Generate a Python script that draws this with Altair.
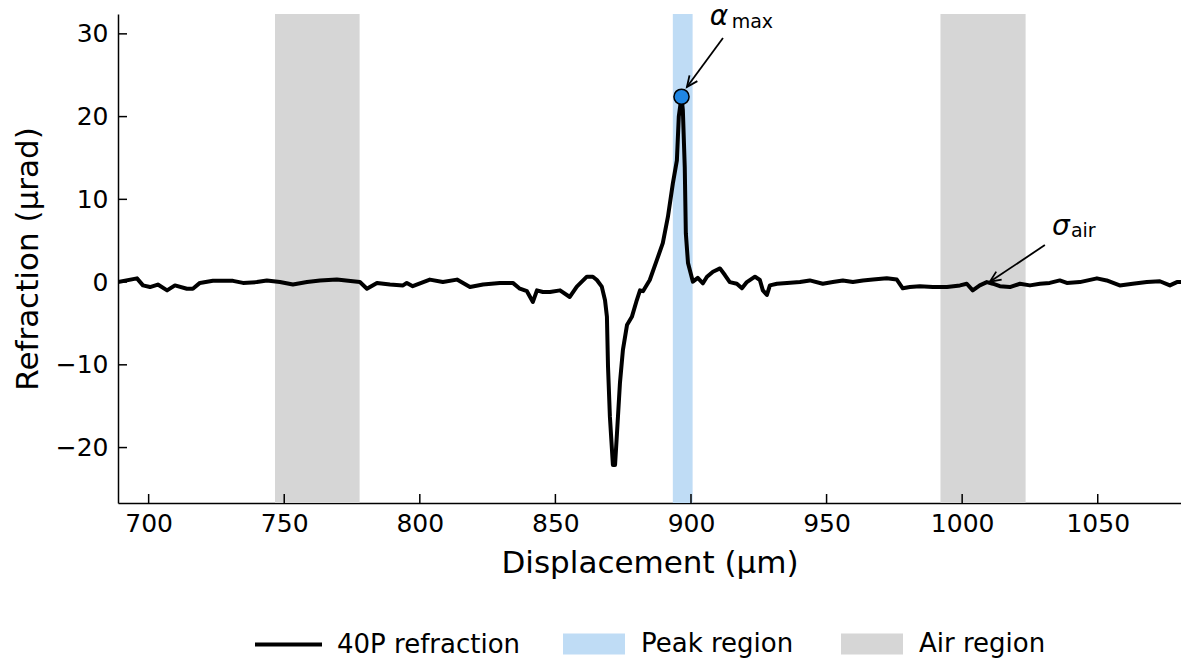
import math
import altair as alt
import pandas as pd

# ---- data -------------------------------------------------------------
displacement = [
    688.7, 695.7, 697.9, 700.5, 703.4, 706.8, 709.7, 714.1, 716.3, 718.9,
    723.7, 731.1, 734.8, 739.9, 743.6, 748.4, 753.2, 758.4, 763.2, 769.4,
    775.3, 777.9, 780.5, 784.2, 789.0, 793.8, 795.2, 797.4, 803.7, 808.5,
    813.7, 818.5, 823.3, 829.5, 834.3, 836.9, 839.5, 841.7, 843.2, 845.4,
    848.0, 851.7, 855.3, 857.9, 861.6, 863.8, 865.3, 867.1, 868.3, 869.0,
    869.4, 870.1, 871.2, 872.0, 872.7, 873.8, 874.9, 876.4, 878.2, 880.0,
    881.2, 882.3, 884.8, 887.4, 889.6, 891.5, 893.3, 894.8, 895.5, 896.5,
    897.0, 897.7, 898.1, 898.9, 900.7, 902.5, 904.4, 905.9, 908.1, 910.7,
    912.5, 914.3, 916.9, 918.8, 920.6, 923.6, 925.4, 926.5, 928.0, 929.1,
    931.7, 935.4, 940.2, 943.8, 948.6, 952.3, 956.0, 959.7, 963.4, 967.1,
    972.2, 975.9, 978.1, 980.7, 984.4, 989.2, 994.4, 999.2, 1001.7, 1003.9,
    1006.5, 1009.1, 1011.3, 1013.9, 1017.6, 1021.3, 1025.0, 1028.7, 1032.3, 1036.0,
    1038.6, 1043.4, 1049.7, 1053.3, 1058.1, 1062.9, 1068.1, 1072.9, 1076.6, 1079.2,
    1080.7,
]
refraction = [
    0.0, 0.45, -0.4, -0.6, -0.3, -1.0, -0.4, -0.8, -0.8, -0.1,
    0.15, 0.15, -0.1, 0.0, 0.2, 0.0, -0.3, 0.0, 0.2, 0.3,
    0.1, 0.0, -0.8, -0.1, -0.3, -0.4, -0.1, -0.5, 0.3, 0.0,
    0.3, -0.6, -0.3, -0.1, -0.1, -0.8, -1.1, -2.4, -1.0, -1.2,
    -1.2, -1.0, -1.8, -0.55, 0.65, 0.65, 0.25, -0.55, -2.2, -4.2,
    -10.2, -16.3, -22.1, -22.1, -18.3, -12.2, -8.2, -5.2, -4.2, -2.2,
    -1.0, -1.1, 0.25, 2.65, 4.7, 7.9, 11.9, 14.7, 20.0, 22.4,
    20.8, 13.9, 5.9, 2.3, 0.05, 0.5, -0.15, 0.65, 1.25, 1.65,
    0.85, 0.0, -0.2, -0.75, 0.0, 0.65, 0.25, -1.0, -1.55, -0.4,
    -0.2, -0.1, 0.0, 0.2, -0.2, 0.0, 0.2, 0.0, 0.2, 0.3,
    0.45, 0.3, -0.75, -0.6, -0.5, -0.6, -0.6, -0.4, -0.2, -1.0,
    -0.4, 0.0, -0.2, -0.5, -0.6, -0.2, -0.4, -0.2, -0.1, 0.2,
    -0.1, 0.0, 0.45, 0.2, -0.4, -0.2, 0.0, 0.1, -0.4, 0.0,
    0.0,
]

region_names = ["Air region", "Peak region", "Air region"]
region_start = [746.6, 893.3, 992.0]
region_end = [777.8, 900.6, 1023.4]

peak_x = [896.5]
peak_y = [22.4]

x_ticks = [700, 750, 800, 850, 900, 950, 1000, 1050]
y_ticks = [-20, -10, 0, 10, 20, 30]

# annotations (data coordinates)
ann_main = ["α", "σ"]
ann_main_x = [910.3, 1036.4]
ann_main_y = [32.0, 6.65]
ann_sub = ["max", "air"]
ann_sub_x = [915.0, 1040.1]
ann_sub_y = [31.4, 6.16]
arrow_start_x = [911.8, 1030.5]
arrow_start_y = [29.49, 4.47]
arrow_tip_x = [898.5, 1010.2]
arrow_tip_y = [23.57, 0.04]

X_DOMAIN = [688.7, 1080.7]
Y_DOMAIN = [-26.7, 32.4]
W, H = 1063, 489
FONT = "DejaVu Sans"

# ---- frames ------------------------------------------------------------
line_df = pd.DataFrame({"x": displacement, "y": refraction,
                        "series": "40P refraction"})
region_df = pd.DataFrame({"x": region_start, "x2": region_end,
                          "region": region_names})
peak_df = pd.DataFrame({"x": peak_x, "y": peak_y})
xt_df = pd.DataFrame({"x": x_ticks})
yt_df = pd.DataFrame({"y": y_ticks})
main_df = pd.DataFrame({"x": ann_main_x, "y": ann_main_y, "t": ann_main})
sub_df = pd.DataFrame({"x": ann_sub_x, "y": ann_sub_y, "t": ann_sub})

kx = W / (X_DOMAIN[1] - X_DOMAIN[0])
ky = H / (Y_DOMAIN[1] - Y_DOMAIN[0])
rows = []
for i in range(len(arrow_tip_x)):
    x0, y0 = arrow_start_x[i], arrow_start_y[i]
    x1, y1 = arrow_tip_x[i], arrow_tip_y[i]
    rows.append({"x": x0, "y": y0, "g": f"s{i}", "o": 0})
    rows.append({"x": x1, "y": y1, "g": f"s{i}", "o": 1})
    dx, dy = (x1 - x0) * kx, (y1 - y0) * ky
    n = math.hypot(dx, dy)
    ux, uy = dx / n, dy / n
    L, ang = 12, 24
    wings = []
    for s in (1, -1):
        a = math.radians(ang * s)
        rx = ux * math.cos(a) - uy * math.sin(a)
        ry = ux * math.sin(a) + uy * math.cos(a)
        wings.append((x1 - L * rx / kx, y1 - L * ry / ky))
    rows.append({"x": wings[0][0], "y": wings[0][1], "g": f"h{i}", "o": 0})
    rows.append({"x": x1, "y": y1, "g": f"h{i}", "o": 1})
    rows.append({"x": wings[1][0], "y": wings[1][1], "g": f"h{i}", "o": 2})
arrow_df = pd.DataFrame(rows)

# ---- encodings -----------------------------------------------------------
xscale = alt.Scale(domain=X_DOMAIN, nice=False, zero=False)
yscale = alt.Scale(domain=Y_DOMAIN, nice=False, zero=False)
xaxis = alt.Axis(values=x_ticks, title="Displacement (µm)", ticks=False,
                 format="d", labelPadding=8, titlePadding=12, grid=False)
yaxis = alt.Axis(values=y_ticks, title="Refraction (µrad)", ticks=False,
                 labelPadding=10, titlePadding=11, grid=False,
                 labelExpr="replace(datum.label, '-', '\u2212')")
xenc = alt.X("x:Q", scale=xscale, axis=xaxis)
yenc = alt.Y("y:Q", scale=yscale, axis=yaxis)

regions = alt.Chart(region_df).mark_rect().encode(
    x=xenc, x2="x2:Q", y=alt.value(0), y2=alt.value(H),
    fill=alt.Fill("region:N",
                  scale=alt.Scale(domain=["Peak region", "Air region"],
                                  range=["#bfdcf5", "#d6d6d6"]),
                  legend=alt.Legend(
                      title=None, orient="none", legendX=445, legendY=599,
                      direction="horizontal",
                      symbolType="M-1,-0.34L1,-0.34L1,0.34L-1,0.34Z",
                      symbolSize=3844, symbolStrokeWidth=0,
                      labelFont=FONT, labelFontSize=26, labelColor="black",
                      labelOffset=16, columnPadding=47, padding=0,
                      labelLimit=400)),
)

line = alt.Chart(line_df).mark_line(strokeWidth=4, strokeJoin="round",
                                    clip=True).encode(
    x=xenc, y=yenc,
    stroke=alt.Stroke("series:N",
                      scale=alt.Scale(domain=["40P refraction"],
                                      range=["black"]),
                      legend=alt.Legend(
                          title=None, orient="none", legendX=135, legendY=595,
                          symbolType="M-1,0L1,0", symbolSize=4489,
                          symbolStrokeWidth=4,
                          labelFont=FONT, labelFontSize=26,
                          labelColor="black", labelOffset=13, padding=0,
                          labelLimit=400)),
)

xticks = alt.Chart(xt_df).mark_rule(color="black", strokeWidth=1.5).encode(
    x=xenc, y=alt.value(H), y2=alt.value(H - 9))
yticks = alt.Chart(yt_df).mark_rule(color="black", strokeWidth=1.5).encode(
    y=yenc, x=alt.value(0), x2=alt.value(9))

arrows = alt.Chart(arrow_df).mark_line(color="black", strokeWidth=1.8).encode(
    x=xenc, y=yenc, detail="g:N", order="o:Q")

peak = alt.Chart(peak_df).mark_point(
    filled=True, size=230, fill="#1f86e3", stroke="black", strokeWidth=1.5,
    opacity=1, shape="circle").encode(x=xenc, y=yenc)

main_txt = alt.Chart(main_df).mark_text(
    font=FONT, fontSize=28, fontStyle="italic", align="center",
    baseline="middle", color="black").encode(x=xenc, y=yenc, text="t:N")
sub_txt = alt.Chart(sub_df).mark_text(
    font=FONT, fontSize=19, align="left", baseline="middle",
    color="black").encode(x=xenc, y=yenc, text="t:N")

chart = alt.layer(regions, line, xticks, yticks, arrows, peak, main_txt,
                  sub_txt).properties(
    width=W, height=H,
    autosize=alt.AutoSizeParams(type="none"),
    padding={"left": 118, "top": 14, "right": 0, "bottom": 161},
    background="white",
).configure_view(strokeWidth=0).configure_axis(
    labelFont=FONT, labelFontSize=25, labelColor="black",
    titleFont=FONT, titleFontSize=31, titleFontWeight="normal",
    titleColor="black", domainColor="black", domainWidth=1.5,
)

chart.save("out.html", embed_options={"renderer": "svg", "actions": False})
